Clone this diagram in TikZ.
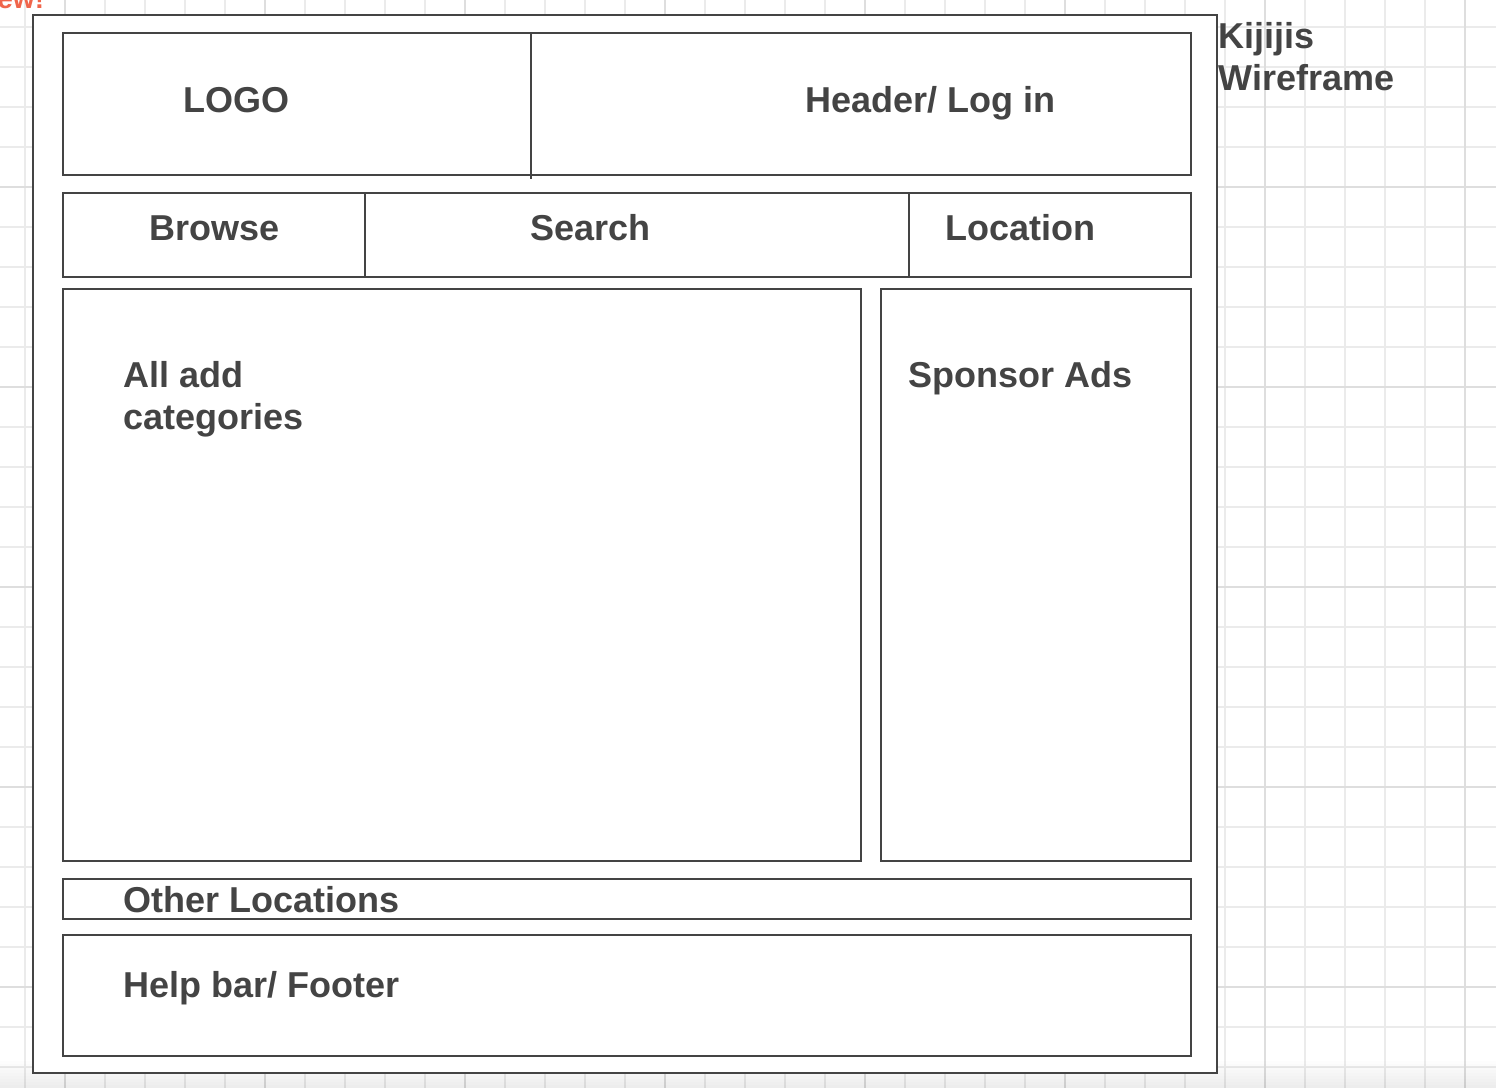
\documentclass[tikz,border=0pt]{standalone}
\usepackage{fontspec}
\setmainfont{Liberation Sans}
\definecolor{ink}{HTML}{444444}
\definecolor{gridminor}{HTML}{EBEBEB}
\definecolor{gridmajor}{HTML}{DEDEDE}
\definecolor{newred}{HTML}{F0654B}
\begin{document}
\begin{tikzpicture}[x=0.5pt,y=-0.5pt,
  box/.style={draw=ink,line width=1pt},
  lbl/.style={anchor=base west,inner sep=0pt,text=ink,font=\bfseries\fontsize{18}{21}\selectfont}]
\useasboundingbox (0,0) rectangle (1496,1088);
\begin{scope}
\clip (0,0) rectangle (1496,1088);
\fill[white] (0,0) rectangle (1496,1088);
\foreach \x in {25,65,...,1496} \draw[gridminor,line width=0.75pt] (\x,0) -- (\x,1088);
\foreach \y in {27,67,...,1088} \draw[gridminor,line width=0.75pt] (0,\y) -- (1496,\y);
\foreach \x in {65,265,...,1496} \draw[gridmajor,line width=0.75pt] (\x,0) -- (\x,1088);
\foreach \y in {187,387,...,1088} \draw[gridmajor,line width=0.75pt] (0,\y) -- (1496,\y);
\foreach \i in {1,...,10} \fill[black,opacity=0.006] (0,1058+3*\i) rectangle (1496,1088);
\node[anchor=base west,inner sep=0pt,text=newred,font=\bfseries\fontsize{14}{16}\selectfont] (newtag) at (-3,8) {ew!};
\end{scope}
% outer frame
\draw[box,fill=white] (33,15) rectangle (1217,1073);
% header row
\draw[box] (63,33) rectangle (531,175);
\draw[box] (531,33) rectangle (1191,175);
\draw[box] (531,175) -- (531,179);
% nav row
\draw[box] (63,193) rectangle (365,277);
\draw[box] (365,193) rectangle (909,277);
\draw[box] (909,193) rectangle (1191,277);
% main
\draw[box] (63,289) rectangle (861,861);
\draw[box] (881,289) rectangle (1191,861);
% other locations
\draw[box] (63,879) rectangle (1191,919);
% footer
\draw[box] (63,935) rectangle (1191,1056);
% labels
\node[lbl] (logo) at (183,112) {LOGO};
\node[lbl] (header) at (805,112) {Header/ Log in};
\node[lbl] (browse) at (149,240) {Browse};
\node[lbl] (search) at (530,240) {Search};
\node[lbl] (location) at (945,240) {Location};
\node[lbl] (alladd) at (123,387) {All add};
\node[lbl] (categories) at (123,429) {categories};
\node[lbl] (sponsor) at (908,387) {Sponsor Ads};
\node[lbl] (otherloc) at (123,912) {Other Locations};
\node[lbl] (footer) at (123,997) {Help bar/ Footer};
\node[lbl] (title1) at (1218,48) {Kijijis};
\node[lbl] (title2) at (1218,90) {Wireframe};
\end{tikzpicture}
\end{document}
